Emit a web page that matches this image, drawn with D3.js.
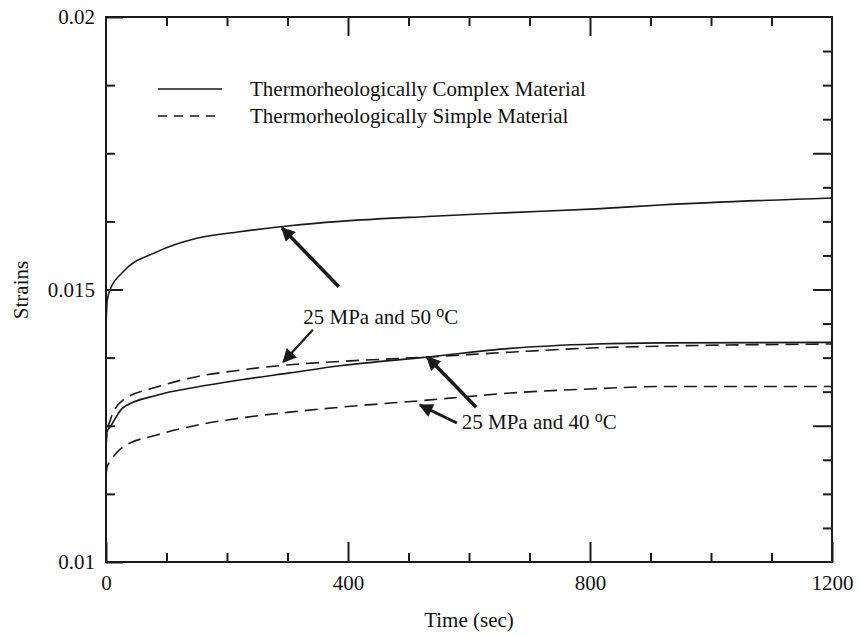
<!DOCTYPE html>
<html>
<head>
<meta charset="utf-8">
<script src="https://cdn.jsdelivr.net/npm/d3@7/dist/d3.min.js"></script>
<style>
  body { margin: 0; background: #fff; }
  svg text { font-family: "Liberation Serif", "Times New Roman", serif; fill: #111; }
</style>
</head>
<body>
<div id="chart"></div>
<script>
// ---- data ----
const times = [0, 2, 7, 28, 84, 150, 221, 304, 387, 531, 668, 810, 916, 1200];

// solid = thermorheologically complex, dashed = thermorheologically simple
const complex50 = [0.0143, 0.0148, 0.0150, 0.01532, 0.01569, 0.01594, 0.01606, 0.01617, 0.01625, 0.01634, 0.01641, 0.01648, 0.01655, 0.01668];
const complex40 = [0.0122, 0.0124, 0.01248, 0.01283, 0.01306, 0.01321, 0.01334, 0.01347, 0.0136, 0.01376, 0.01392, 0.0140, 0.01402, 0.01403];
const simple50  = [0.0121, 0.0124, 0.0126, 0.01297, 0.01321, 0.0134, 0.01352, 0.01362, 0.01368, 0.01376, 0.01385, 0.01393, 0.01396, 0.0140];
const simple40  = [0.0116, 0.01175, 0.01185, 0.01211, 0.01233, 0.01251, 0.01264, 0.01275, 0.01284, 0.01297, 0.0131, 0.01318, 0.01322, 0.01322];

const xLabels = [0, 400, 800, 1200];
const yLabels = [0.01, 0.015, 0.02];

const legendNames = ['Thermorheologically Complex Material', 'Thermorheologically Simple Material'];

// annotation arrows: [tailTime, tailStrain, tipTime, tipStrain, width]
const arrows = [
  [385, 0.01505, 291, 0.01613, 3.5],
  [342, 0.01426, 293, 0.01367, 2.2],
  [612, 0.01284, 531, 0.01376, 3.5],
  [580, 0.01255, 519, 0.01288, 3]
];
const notes = [
  { t: 326, s: 0.01437, temp: '50' },
  { t: 588, s: 0.01244, temp: '40' }
];

const width = 860, height = 637;
const margin = { top: 17, right: 28, bottom: 75, left: 106 };

const svg = d3.select('#chart')
    .append('svg')
    .attr('width', width)
    .attr('height', height);

const x = d3.scaleLinear().domain([0, 1200]).range([margin.left, width - margin.right]);
const y = d3.scaleLinear().domain([0.01, 0.02]).range([height - margin.bottom, margin.top]);

const ink = '#1a1a1a';

// ---- axes (ticks point inward) ----
function styleAxis(g) {
    g.select('.domain').remove();
    g.selectAll('.tick line').attr('stroke', ink).attr('stroke-width', 2);
    g.selectAll('.tick text').attr('font-size', '21px').attr('fill', ink);
}

const minorX = d3.range(100, 1200, 100).filter(d => d !== 400 && d !== 800);
const bottomY = height - margin.bottom;

svg.append('g')
    .attr('transform', `translate(0,${bottomY})`)
    .call(d3.axisBottom(x).tickValues(minorX).tickSize(-9).tickFormat(''))
    .call(styleAxis);
svg.append('g')
    .attr('transform', `translate(0,${bottomY})`)
    .call(d3.axisBottom(x).tickValues(xLabels).tickSize(-20).tickPadding(13).tickFormat(d3.format('d')))
    .call(styleAxis);

svg.append('g')
    .attr('transform', `translate(0,${margin.top})`)
    .call(d3.axisTop(x).tickValues(minorX).tickSize(-9).tickFormat(''))
    .call(styleAxis);
svg.append('g')
    .attr('transform', `translate(0,${margin.top})`)
    .call(d3.axisTop(x).tickValues([400, 800]).tickSize(-19).tickFormat(''))
    .call(styleAxis);

// left: every 0.00125, long at 0.015
const leftTicks = d3.range(1, 8).map(i => 0.01 + i * 0.00125).filter(d => Math.abs(d - 0.015) > 1e-9);
svg.append('g')
    .attr('transform', `translate(${margin.left},0)`)
    .call(d3.axisLeft(y).tickValues(leftTicks).tickSize(-9).tickFormat(''))
    .call(styleAxis);
svg.append('g')
    .attr('transform', `translate(${margin.left},0)`)
    .call(d3.axisLeft(y).tickValues(yLabels).tickSize(-17).tickPadding(11).tickFormat(d => d3.format('')(+d.toFixed(3))))
    .call(styleAxis);

// right: every 0.000625, long every 0.0025
const rightAll = d3.range(1, 16).map(i => 0.01 + i * 0.000625);
const rightMajor = rightAll.filter((d, i) => (i + 1) % 4 === 0);
const rightMinor = rightAll.filter((d, i) => (i + 1) % 4 !== 0);
const rightX = width - margin.right;
svg.append('g')
    .attr('transform', `translate(${rightX},0)`)
    .call(d3.axisRight(y).tickValues(rightMinor).tickSize(-9).tickFormat(''))
    .call(styleAxis);
svg.append('g')
    .attr('transform', `translate(${rightX},0)`)
    .call(d3.axisRight(y).tickValues(rightMajor).tickSize(-19).tickFormat(''))
    .call(styleAxis);

// frame
svg.append('rect')
    .attr('x', margin.left)
    .attr('y', margin.top)
    .attr('width', rightX - margin.left)
    .attr('height', bottomY - margin.top)
    .attr('fill', 'none')
    .attr('stroke', ink)
    .attr('stroke-width', 2);

// axis titles
svg.append('text')
    .attr('x', (margin.left + rightX) / 2)
    .attr('y', 627)
    .attr('text-anchor', 'middle')
    .attr('font-size', '21px')
    .text('Time (sec)');

svg.append('text')
    .attr('transform', 'translate(28,290) rotate(-90)')
    .attr('text-anchor', 'middle')
    .attr('font-size', '21px')
    .text('Strains');

// ---- curves ----
const line = d3.line()
    .x(d => x(d[0]))
    .y(d => y(d[1]))
    .curve(d3.curveMonotoneX);

const series = [
    { values: complex50, dash: null },
    { values: complex40, dash: null },
    { values: simple50, dash: '13,7' },
    { values: simple40, dash: '13,7' }
];

svg.selectAll('path.curve')
    .data(series)
    .enter()
    .append('path')
    .attr('class', 'curve')
    .attr('d', d => line(times.map((t, i) => [t, d.values[i]])))
    .attr('fill', 'none')
    .attr('stroke', ink)
    .attr('stroke-width', 1.6)
    .attr('stroke-dasharray', d => d.dash);

// ---- legend ----
const legend = svg.append('g');
legendNames.forEach((name, i) => {
    const ly = 89 + i * 27;
    legend.append('line')
        .attr('x1', 158).attr('x2', 222)
        .attr('y1', ly).attr('y2', ly)
        .attr('stroke', ink)
        .attr('stroke-width', 1.6)
        .attr('stroke-dasharray', i === 1 ? '9,7' : null);
    legend.append('text')
        .attr('x', 250)
        .attr('y', ly + 7)
        .attr('font-size', '21px')
        .text(name);
});

// ---- annotations ----
svg.append('defs').append('marker')
    .attr('id', 'head')
    .attr('viewBox', '0 0 10 10')
    .attr('refX', 9)
    .attr('refY', 5)
    .attr('markerUnits', 'userSpaceOnUse')
    .attr('markerWidth', 16)
    .attr('markerHeight', 14)
    .attr('orient', 'auto')
    .append('path')
    .attr('d', 'M0,0 L10,5 L0,10 Z')
    .attr('fill', ink);

svg.selectAll('line.arrow')
    .data(arrows)
    .enter()
    .append('line')
    .attr('class', 'arrow')
    .attr('x1', d => x(d[0]))
    .attr('y1', d => y(d[1]))
    .attr('x2', d => x(d[2]))
    .attr('y2', d => y(d[3]))
    .attr('stroke', ink)
    .attr('stroke-width', d => d[4])
    .attr('marker-end', 'url(#head)');

notes.forEach(n => {
    const t = svg.append('text')
        .attr('x', x(n.t))
        .attr('y', y(n.s))
        .attr('font-size', '21px');
    t.append('tspan').text(`25 MPa and ${n.temp} `);
    t.append('tspan').attr('font-size', '16px').attr('dy', -7).text('o');
    t.append('tspan').attr('dy', 7).text('C');
});
</script>
</body>
</html>
